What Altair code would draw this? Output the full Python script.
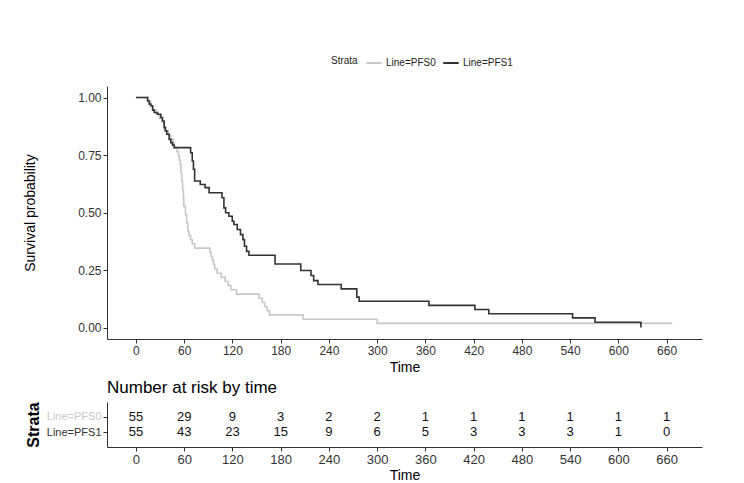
import altair as alt
import pandas as pd

strata = ["Line=PFS0", "Line=PFS1"]
line_colors = ["#C8C8C8", "#333333"]

pfs0_time = [0, 15.2, 18.4, 21.0, 25.2, 28.9, 32.6, 34.7, 37.3, 40.4, 43.1, 46.2, 48.0,
             51.0, 53.0, 54.0, 55.0, 56.0, 57.0, 58.0, 59.0, 59.5, 61.5, 63.0, 64.5, 66.0,
             68.0, 70.0, 73.0, 92.0, 93.5, 95.0, 96.5, 98.0, 101.0, 106.0, 111.0, 115.0,
             118.0, 125.0, 153.0, 157.0, 160.0, 163.0, 166.0, 208.0, 300.0, 667.0]
pfs0_surv = [1.000, 0.982, 0.964, 0.945, 0.927, 0.909, 0.891, 0.873, 0.855, 0.836, 0.818,
             0.800, 0.782, 0.764, 0.745, 0.727, 0.709, 0.673, 0.636, 0.600, 0.564, 0.527,
             0.491, 0.455, 0.418, 0.400, 0.382, 0.364, 0.345, 0.327, 0.309, 0.291, 0.273,
             0.255, 0.236, 0.218, 0.200, 0.182, 0.164, 0.145, 0.127, 0.109, 0.091, 0.073,
             0.055, 0.036, 0.018, 0.018]

pfs1_time = [0, 14.5, 16.6, 18.5, 20.7, 22.7, 26.8, 31.0, 33.0, 35.1, 36.4, 38.4, 41.3,
             43.4, 45.5, 47.5, 68.0, 70.0, 71.5, 73.0, 80.0, 86.0, 91.0, 107.0, 109.4,
             111.5, 115.6, 119.8, 121.9, 126.0, 130.0, 133.0, 135.0, 137.6, 140.5, 173.0,
             205.0, 217.7, 221.0, 226.4, 255.3, 274.7, 277.6, 364.4, 421.6, 438.8, 543.0,
             571.0, 628.0]
pfs1_surv = [1.000, 0.985, 0.971, 0.964, 0.945, 0.935, 0.927, 0.913, 0.898, 0.869, 0.855,
             0.840, 0.818, 0.804, 0.793, 0.782, 0.760, 0.724, 0.688, 0.637, 0.622, 0.608,
             0.586, 0.564, 0.520, 0.499, 0.484, 0.462, 0.448, 0.426, 0.404, 0.382, 0.353,
             0.331, 0.314, 0.276, 0.248, 0.226, 0.204, 0.187, 0.168, 0.132, 0.114, 0.096,
             0.078, 0.060, 0.042, 0.023, 0.000]

risk_times = [0, 60, 120, 180, 240, 300, 360, 420, 480, 540, 600, 660]
risk_pfs0 = [55, 29, 9, 3, 2, 2, 1, 1, 1, 1, 1, 1]
risk_pfs1 = [55, 43, 23, 15, 9, 6, 5, 3, 3, 3, 1, 0]

y_ticks = [0, 0.25, 0.5, 0.75, 1.0]

FONT = "Liberation Sans"
X_DOMAIN = [-36, 704]
W = 595

curves = pd.concat([
    pd.DataFrame({"time": pfs0_time, "surv": pfs0_surv, "Strata": strata[0]}),
    pd.DataFrame({"time": pfs1_time, "surv": pfs1_surv, "Strata": strata[1]}),
])

risk = pd.concat([
    pd.DataFrame({"time": risk_times, "n": risk_pfs0, "Strata": strata[0]}),
    pd.DataFrame({"time": risk_times, "n": risk_pfs1, "Strata": strata[1]}),
])

main = alt.Chart(curves).mark_line(interpolate="step-after", strokeWidth=1.6).encode(
    x=alt.X("time:Q", scale=alt.Scale(domain=X_DOMAIN, nice=False, zero=False),
            axis=alt.Axis(values=risk_times, title="Time", grid=False)),
    y=alt.Y("surv:Q", scale=alt.Scale(domain=[-0.05, 1.05], nice=False),
            axis=alt.Axis(values=y_ticks, format=".2f", title="Survival probability",
                          grid=False, titlePadding=40)),
    color=alt.Color("Strata:N", scale=alt.Scale(domain=strata, range=line_colors),
                    legend=alt.Legend(orient="none", legendX=224, legendY=-32,
                                      direction="horizontal", titleOrient="left",
                                      symbolType="stroke", symbolStrokeWidth=2,
                                      symbolSize=240, labelFontSize=10, titleFontSize=10,
                                      titleFontWeight="normal", titleColor="#222",
                                      labelColor="#222", columnPadding=3,
                                      titlePadding=7, labelOffset=3,
                                      labelFont=FONT, titleFont=FONT)),
    order="time:Q",
).properties(width=W, height=253)

table = alt.Chart(risk).mark_text(font=FONT, fontSize=13, color="#111").encode(
    x=alt.X("time:Q", scale=alt.Scale(domain=X_DOMAIN, nice=False, zero=False),
            axis=alt.Axis(values=risk_times, title="Time", grid=False,
                          labelFontSize=13, labelPadding=2, titlePadding=2)),
    y=alt.Y("Strata:N", scale=alt.Scale(domain=strata, padding=0.95),
            axis=alt.Axis(title="Strata", titleFontWeight="bold", titleFontSize=16,
                          titleColor="#000", titlePadding=5, labelFontSize=11,
                          labelColor={"condition": {"test": "datum.value === 'Line=PFS0'",
                                                    "value": "#C8C8C8"},
                                      "value": "#333333"})),
    text="n:Q",
).properties(
    width=W, height=45,
    title=alt.TitleParams("Number at risk by time", anchor="start", frame="group",
                          fontSize=17, fontWeight="normal", font=FONT, color="#000",
                          offset=5),
)

chart = alt.vconcat(main, table, spacing=4).properties(
    padding={"left": 15, "top": 46, "right": 5, "bottom": 0}
).configure_view(stroke=None).configure_axis(
    labelFont=FONT, titleFont=FONT, labelFontSize=12, titleFontSize=14,
    labelColor="#333333", titleColor="#000", titleFontWeight="normal",
    domainColor="#333333", tickColor="#333333", tickSize=4, domainWidth=1,
    labelPadding=2,
)

chart.save("out.html", embed_options={"renderer": "svg", "actions": False})
